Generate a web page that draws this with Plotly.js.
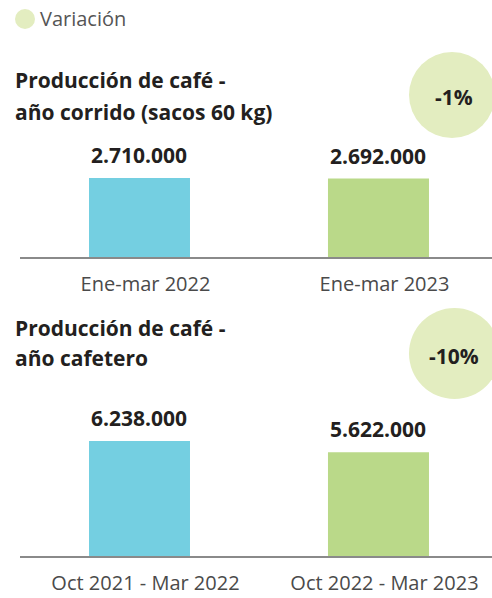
<!DOCTYPE html>
<html>
<head>
<meta charset="utf-8">
<script src="https://cdn.plot.ly/plotly-3.0.1.min.js"></script>
<style>html,body{margin:0;padding:0;background:#fff;}#chart{width:492px;height:598px;}</style>
</head>
<body>
<div id="chart"></div>
<script>
// Data
const categoriesTop = ["Ene-mar 2022", "Ene-mar 2023"];
const valuesTop = [2710000, 2692000];
const categoriesBottom = ["Oct 2021 - Mar 2022", "Oct 2022 - Mar 2023"];
const valuesBottom = [6238000, 5622000];
const barColors = ["#74cfe1", "#bad989"];
const titleTop = ["Producción de café -", "año corrido (sacos 60 kg)"];
const titleBottom = ["Producción de café -", "año cafetero"];
const variations = ["-1%", "-10%"];
const legendLabel = "Variación";

const W = 492, H = 598;
const py = p => 1 - p / H;
const px = p => p / W;
const FONT = "Open Sans, sans-serif";
const DARK = "#231f20";

const traces = [
  {type: "bar", x: categoriesTop, y: valuesTop, xaxis: "x", yaxis: "y",
   marker: {color: barColors}, width: 0.4226, hoverinfo: "x+y", showlegend: false},
  {type: "bar", x: categoriesBottom, y: valuesBottom, xaxis: "x2", yaxis: "y2",
   marker: {color: barColors}, width: 0.4226, hoverinfo: "x+y", showlegend: false}
];

const xCommon = {
  domain: [px(20), 1], range: [-0.5, 1.475], type: "category",
  showline: true, linecolor: "#8a8a8a", linewidth: 2,
  showgrid: false, zeroline: false, ticks: "", ticklabelstandoff: 8, ticklabelshift: 6,
  tickfont: {family: FONT, size: 20, color: "#4a4a4a"}, fixedrange: true
};
const yCommon = {showgrid: false, zeroline: false, showticklabels: false, showline: false, fixedrange: true};

const fmt = v => v.toLocaleString("de-DE");

const valueAnnots = [];
categoriesTop.forEach((c, i) => valueAnnots.push({
  xref: "x", yref: "y", x: c, y: valuesTop[i], yanchor: "middle", xanchor: "center", yshift: 23,
  text: "<b>" + fmt(valuesTop[i]) + "</b>", showarrow: false, font: {family: FONT, size: 21, color: DARK}
}));
categoriesBottom.forEach((c, i) => valueAnnots.push({
  xref: "x2", yref: "y2", x: c, y: valuesBottom[i], yanchor: "middle", xanchor: "center", yshift: 23,
  text: "<b>" + fmt(valuesBottom[i]) + "</b>", showarrow: false, font: {family: FONT, size: 21, color: DARK}
}));

const textAnnot = (x, y, t, size, color, anchor) => ({
  xref: "paper", yref: "paper", x: px(x), y: py(y), xanchor: anchor || "left", yanchor: "middle",
  text: t, showarrow: false, font: {family: FONT, size: size, color: color}
});

const layout = {
  width: W, height: H,
  margin: {l: 0, r: 0, t: 0, b: 0},
  paper_bgcolor: "#fff", plot_bgcolor: "#fff",
  separators: ",.",
  showlegend: false,
  xaxis: Object.assign({}, xCommon, {anchor: "y"}),
  yaxis: Object.assign({}, yCommon, {domain: [py(257), py(140)], range: [0, 4013000]}),
  xaxis2: Object.assign({}, xCommon, {anchor: "y2"}),
  yaxis2: Object.assign({}, yCommon, {domain: [py(556), py(400)], range: [0, 8460000]}),
  shapes: [
    {type: "circle", xref: "paper", yref: "paper", x0: px(15), x1: px(35), y0: py(29), y1: py(9),
     fillcolor: "#e3edc0", line: {width: 0}},
    {type: "circle", xref: "paper", yref: "paper", x0: px(409), x1: px(495), y0: py(138), y1: py(52),
     fillcolor: "#e3edc0", line: {width: 0}, layer: "below"},
    {type: "circle", xref: "paper", yref: "paper", x0: px(409), x1: px(500), y0: py(399), y1: py(308),
     fillcolor: "#e3edc0", line: {width: 0}, layer: "below"}
  ],
  annotations: valueAnnots.concat([
    textAnnot(38, 19, legendLabel, 20, "#555"),
    textAnnot(13, 80, "<b>" + titleTop[0] + "</b>", 21, DARK),
    textAnnot(13, 112, "<b>" + titleTop[1] + "</b>", 21, DARK),
    textAnnot(13, 328, "<b>" + titleBottom[0] + "</b>", 21, DARK),
    textAnnot(13, 358, "<b>" + titleBottom[1] + "</b>", 21, DARK),
    textAnnot(454, 97, "<b>" + variations[0] + "</b>", 21, DARK, "center"),
    textAnnot(454, 356, "<b>" + variations[1] + "</b>", 21, DARK, "center")
  ])
};

Plotly.newPlot("chart", traces, layout, {displayModeBar: false, staticPlot: true});
</script>
</body>
</html>
